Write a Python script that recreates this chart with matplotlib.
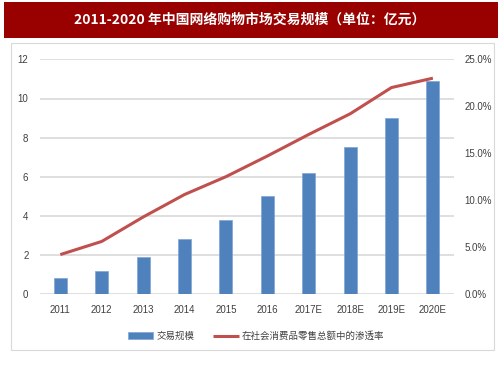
import matplotlib
matplotlib.use("Agg")
import matplotlib.pyplot as plt
from matplotlib.patches import Rectangle
from matplotlib.ticker import FuncFormatter
import numpy as np

categories = ["2011", "2012", "2013", "2014", "2015", "2016", "2017E", "2018E", "2019E", "2020E"]
scale_values = [0.8, 1.2, 1.9, 2.8, 3.8, 5.0, 6.2, 7.5, 9.0, 10.9]
penetration = [4.2, 5.6, 8.2, 10.6, 12.5, 14.7, 17.0, 19.2, 22.0, 23.0]
left_ticks = [0, 2, 4, 6, 8, 10, 12]
right_ticks = [0, 5, 10, 15, 20, 25]

title = "2011-2020 年中国网络购物市场交易规模（单位：亿元）"
bar_label = "交易规模"
line_label = "在社会消费品零售总额中的渗透率"

W, H = 503, 378
fig = plt.figure(figsize=(W / 100, H / 100), dpi=100)
fig.patch.set_facecolor("white")

# title band
fig.patches.append(Rectangle((4 / W, 1 - 37.5 / H), 494 / W, 35.5 / H,
                             transform=fig.transFigure, facecolor="#990000",
                             edgecolor="none", zorder=0))
fig.text(250 / W, 1 - 20 / H, title, color="white", fontsize=10, fontweight="bold",
         ha="center", va="center", family=["Noto Sans CJK SC", "DejaVu Sans"])

# chart border
fig.patches.append(Rectangle((10.5 / W, 1 - 349.5 / H), 483 / W, 307 / H,
                             transform=fig.transFigure, facecolor="none",
                             edgecolor="#D9D9D9", linewidth=0.8, zorder=0))

left, right = 39.6 / W, 453.6 / W
bottom, top = 1 - 294 / H, 1 - 59.4 / H
ax = fig.add_axes([left, bottom, right - left, top - bottom])
ax2 = ax.twinx()

x = np.arange(len(categories))
bars = ax.bar(x, scale_values, width=0.31, color="#4F81BD", edgecolor="#7FA6D6",
              linewidth=0.5, zorder=3, label=bar_label)
ax.set_xlim(-0.5, len(categories) - 0.5)
ax.set_ylim(0, 12)
ax.set_yticks(left_ticks)
ax.grid(axis="y", color="#D9D9D9", linewidth=1.2, zorder=0)
ax.set_axisbelow(True)
ax.set_xticks(x)
ax.set_xticklabels(categories)

line, = ax2.plot(x, penetration, color="#C0504D", linewidth=2.2, zorder=4,
                 label=line_label, solid_capstyle="butt")
ax2.set_ylim(0, 25)
ax2.set_yticks(right_ticks)
ax2.yaxis.set_major_formatter(FuncFormatter(lambda v, p: f"{v:.1f}%"))

for a in (ax, ax2):
    for s in a.spines.values():
        s.set_visible(False)
    a.tick_params(length=0, labelsize=7, colors="#404040")
    for lbl in a.get_xticklabels() + a.get_yticklabels():
        lbl.set_family("Liberation Sans")
ax.tick_params(axis="x", pad=8)
ax.tick_params(axis="y", pad=8)
ax2.tick_params(axis="y", pad=8)

leg = fig.legend([bars, line], [bar_label, line_label], loc="center",
                 bbox_to_anchor=(256 / W, 1 - 336 / H), ncol=2, frameon=False,
                 prop={"family": ["Noto Sans CJK SC", "DejaVu Sans"], "size": 6.8},
                 handlelength=2.7, handletextpad=0.3, columnspacing=2.0)
for t in leg.get_texts():
    t.set_color("#404040")

fig.savefig("out.png", dpi=100)
